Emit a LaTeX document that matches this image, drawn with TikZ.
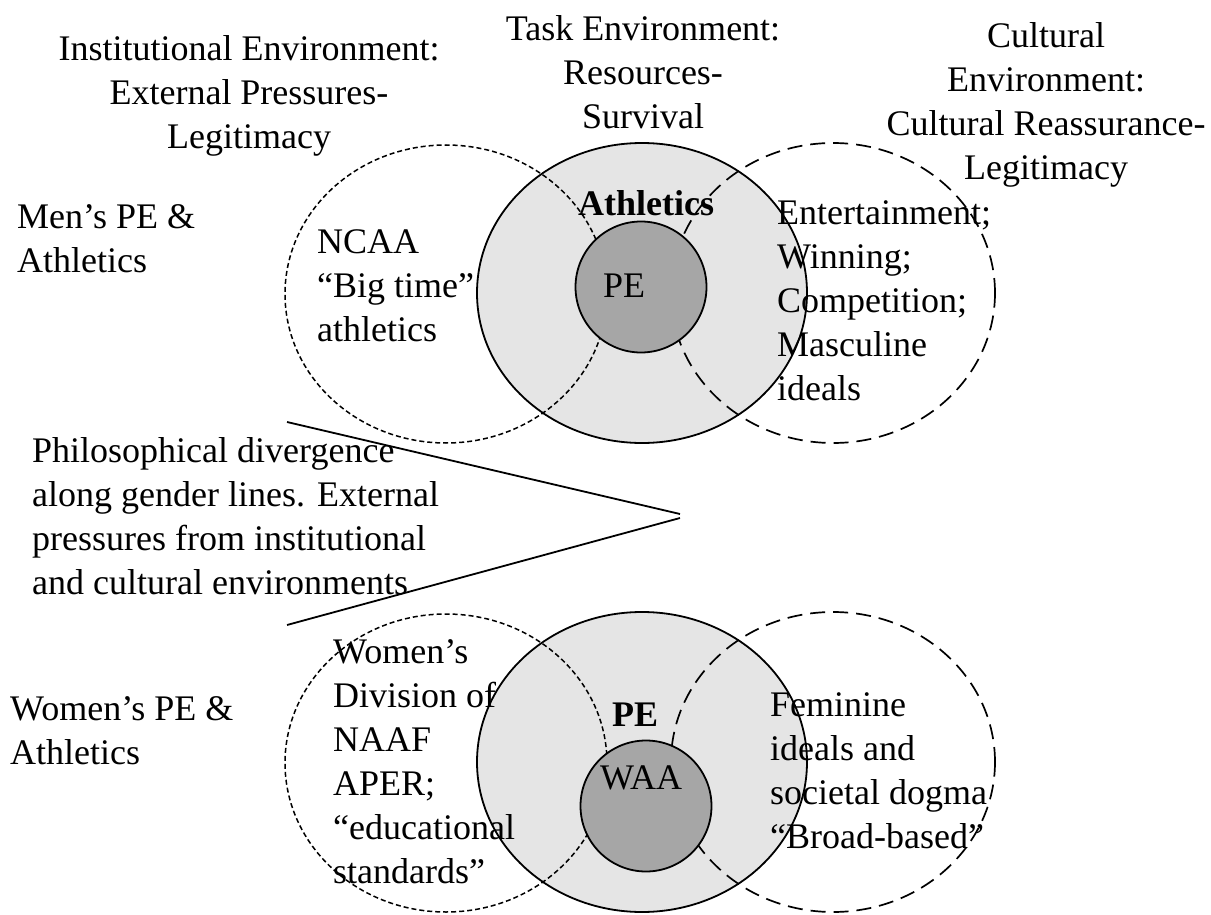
\documentclass[tikz,border=0pt]{standalone}
\usepackage{fontspec}
\setmainfont{Liberation Serif}
\usetikzlibrary{shapes.geometric}
\begin{document}
\begin{tikzpicture}[x=1pt,y=-1pt,
  taskcirc/.style={ellipse, draw, fill=black!10, line width=1.8pt, minimum width=330pt, minimum height=300pt, inner sep=0pt},
  instcirc/.style={ellipse, draw, dash pattern=on 5pt off 3pt, line width=1.5pt, minimum width=322pt, minimum height=298pt, inner sep=0pt},
  cultcirc/.style={ellipse, draw, dash pattern=on 15pt off 8pt, line width=1.7pt, minimum width=324pt, minimum height=300pt, inner sep=0pt},
  corecirc/.style={circle, draw, fill=black!35, line width=1.8pt, minimum size=131pt, inner sep=0pt},
  txt/.style={font=\fontsize{36}{44}\selectfont, inner sep=0pt, anchor=north west, align=left},
  btxt/.style={txt, font=\fontsize{36}{44}\selectfont\bfseries},
  ctr/.style={txt, anchor=north, align=center},
  wedge/.style={line width=1.8pt}]
\path[use as bounding box] (0,0) rectangle (1211,915);
% upper diagram
\node[taskcirc] (mtask) at (642,293) {};
\node[instcirc] (minst) at (446,294) {};
\node[cultcirc] (mcult) at (833,293) {};
\node[corecirc] (mcore) at (641,287) {};
% lower diagram
\node[taskcirc] (wtask) at (642,762) {};
\node[instcirc] (winst) at (446,763) {};
\node[cultcirc] (wcult) at (833,762) {};
\node[corecirc] (wcore) at (646,806) {};
% wedge
\coordinate (wa) at (287,422);
\coordinate (wtipa) at (680,514);
\coordinate (wtipb) at (680,518);
\coordinate (wb) at (287,625);
\draw[wedge] (wa) -- (wtipa);
\draw[wedge] (wtipb) -- (wb);
% headers
\node[ctr] (hinst) at (249,35.5) {Institutional Environment:\\External Pressures-\\Legitimacy};
\node[ctr] (htask) at (643,15.5) {Task Environment:\\Resources-\\Survival};
\node[ctr] (hcult) at (1046,22.5) {Cultural\\Environment:\\Cultural Reassurance-\\Legitimacy};
% side labels
\node[txt] (men) at (17,204) {Men’s PE \&\\Athletics};
\node[txt] (women) at (10,696) {Women’s PE \&\\Athletics};
\node[txt] (phil) at (32,437.5) {Philosophical divergence\\along gender lines. External\\pressures from institutional\\and cultural environments};
% upper texts
\node[txt] (ncaa) at (317,229) {NCAA\\“Big time”\\athletics};
\node[btxt] (ath) at (578,190.5) {Athletics};
\node[txt] (pe) at (603,274) {PE};
\node[txt] (ent) at (777,200.5) {Entertainment;\\Winning;\\Competition;\\Masculine\\ideals};
% lower texts
\node[txt] (wdiv) at (333,639) {Women’s\\Division of\\NAAF\\APER;\\“educational\\standards”};
\node[btxt] (pe2) at (612,703) {PE};
\node[txt] (waa) at (600,766) {WAA};
\node[txt] (fem) at (770,692.5) {Feminine\\ideals and\\societal dogma\\“Broad-based”};
\end{tikzpicture}
\end{document}
